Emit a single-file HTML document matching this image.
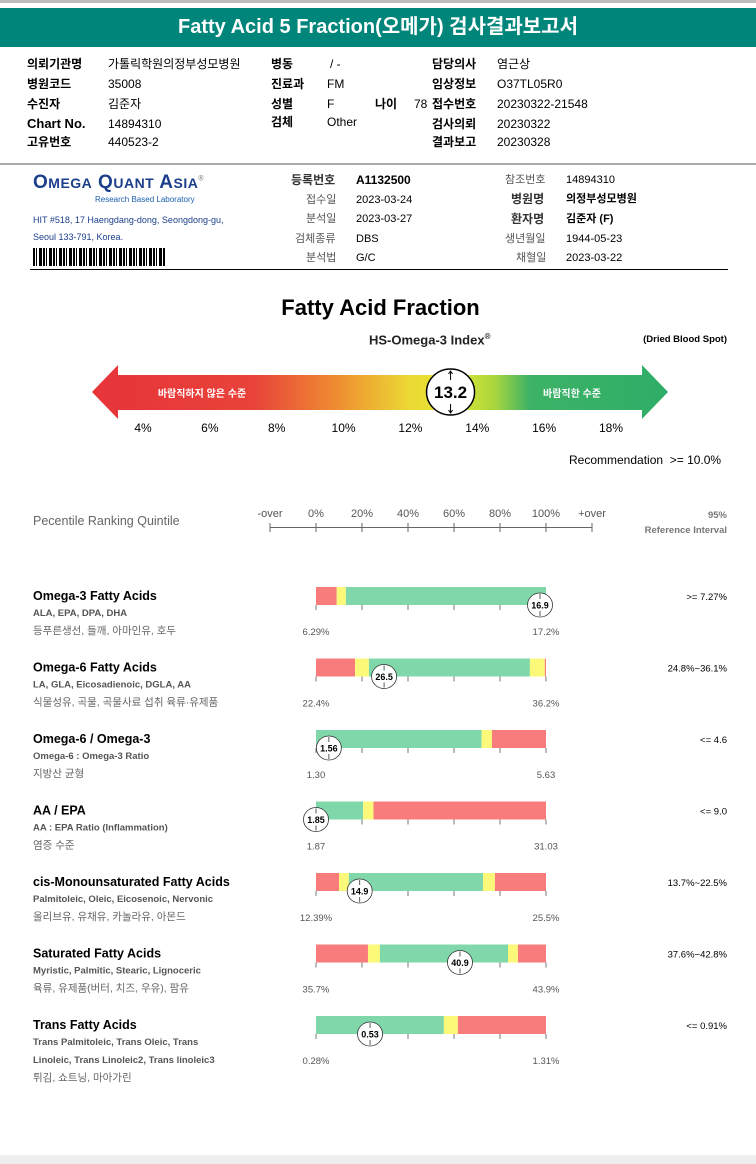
<!DOCTYPE html>
<html><head><meta charset="utf-8">
<style>
*{margin:0;padding:0;box-sizing:border-box}
body{width:756px;height:1164px;background:#fff;position:relative;overflow:hidden;font-family:"Liberation Sans","Noto Sans CJK KR",sans-serif;color:#000}
.a{position:absolute;white-space:nowrap}
.b{font-weight:bold}
.s{font-size:12px}
.g{color:#555}
#pi .a,#si .a{line-height:16px}
</style></head><body>
<div class="a" style="left:0;top:0;width:756px;height:3px;background:#bbb"></div>
<div class="a" style="left:0;top:8px;width:756px;height:39px;background:#00857a;color:#fff;font-size:20px;font-weight:bold;text-align:center;line-height:39px">Fatty Acid 5 Fraction(오메가) 검사결과보고서</div>

<div id="pi" style="font-size:12px">
<div class="a b" style="left:27px;top:56px">의뢰기관명</div><div class="a" style="left:108px;top:56px">가톨릭학원의정부성모병원</div>
<div class="a b" style="left:27px;top:76px">병원코드</div><div class="a" style="left:108px;top:76px">35008</div>
<div class="a b" style="left:27px;top:96px">수진자</div><div class="a" style="left:108px;top:96px">김준자</div>
<div class="a b" style="left:27px;top:116px;font-size:13px">Chart No.</div><div class="a" style="left:108px;top:116px">14894310</div>
<div class="a b" style="left:27px;top:134px">고유번호</div><div class="a" style="left:108px;top:134px">440523-2</div>
<div class="a b" style="left:271px;top:56px">병동</div><div class="a" style="left:330px;top:56px">/ -</div>
<div class="a b" style="left:271px;top:76px">진료과</div><div class="a" style="left:327px;top:76px">FM</div>
<div class="a b" style="left:271px;top:96px">성별</div><div class="a" style="left:327px;top:96px">F</div>
<div class="a b" style="left:375px;top:96px">나이</div><div class="a" style="left:414px;top:96px">78</div>
<div class="a b" style="left:271px;top:114px">검체</div><div class="a" style="left:327px;top:114px">Other</div>
<div class="a b" style="left:432px;top:56px">담당의사</div><div class="a" style="left:497px;top:56px">염근상</div>
<div class="a b" style="left:432px;top:76px">임상정보</div><div class="a" style="left:497px;top:76px">O37TL05R0</div>
<div class="a b" style="left:432px;top:96px">접수번호</div><div class="a" style="left:497px;top:96px">20230322-21548</div>
<div class="a b" style="left:432px;top:116px">검사의뢰</div><div class="a" style="left:497px;top:116px">20230322</div>
<div class="a b" style="left:432px;top:134px">결과보고</div><div class="a" style="left:497px;top:134px">20230328</div>
</div>
<div class="a" style="left:0;top:163px;width:756px;height:2px;background:#aaa"></div>

<div class="a" style="left:33px;top:172px;color:#1c3f8c;font-size:19px;font-weight:bold;letter-spacing:0.5px">O<span style="font-size:14px">MEGA</span> Q<span style="font-size:14px">UANT</span> A<span style="font-size:14px">SIA</span><sup style="font-size:7px;color:#888">®</sup></div>
<div class="a" style="left:95px;top:195px;color:#1c5fae;font-size:8px">Research Based Laboratory</div>
<div class="a" style="left:33px;top:212px;color:#1c3f8c;font-size:9px;line-height:17px">HIT #518, 17 Haengdang-dong, Seongdong-gu,<br>Seoul 133-791, Korea.</div>
<div class="a" style="left:33px;top:248px;width:132px;height:18px;background:repeating-linear-gradient(90deg,#000 0 2px,#fff 2px 3px,#000 3px 4px,#fff 4px 6px,#000 6px 9px,#fff 9px 10px)"></div>
<div id="si" style="font-size:11px">
<div class="a b" style="left:291px;top:172px;font-size:12px;color:#333">등록번호</div><div class="a b" style="left:356px;top:172px;font-size:12px">A1132500</div>
<div class="a g" style="left:306px;top:192px">접수일</div><div class="a" style="left:356px;top:192px">2023-03-24</div>
<div class="a g" style="left:306px;top:211px">분석일</div><div class="a" style="left:356px;top:211px">2023-03-27</div>
<div class="a g" style="left:295px;top:231px">검체종류</div><div class="a" style="left:356px;top:231px">DBS</div>
<div class="a g" style="left:306px;top:250px">분석법</div><div class="a" style="left:356px;top:250px">G/C</div>
<div class="a g" style="left:505px;top:172px">참조번호</div><div class="a" style="left:566px;top:172px">14894310</div>
<div class="a b" style="left:511px;top:191px;font-size:12px;color:#333">병원명</div><div class="a b" style="left:566px;top:191px">의정부성모병원</div>
<div class="a b" style="left:511px;top:211px;font-size:12px;color:#333">환자명</div><div class="a b" style="left:566px;top:211px">김준자 (F)</div>
<div class="a g" style="left:505px;top:231px">생년월일</div><div class="a" style="left:566px;top:231px">1944-05-23</div>
<div class="a g" style="left:516px;top:250px">채혈일</div><div class="a" style="left:566px;top:250px">2023-03-22</div>
</div>
<div class="a" style="left:30px;top:269px;width:698px;height:1px;background:#000"></div>

<div class="a b" style="left:0;top:295px;width:756px;text-align:center;font-size:22px;padding-left:5px">Fatty Acid Fraction</div>
<div class="a" style="left:369px;top:332px;font-size:13px;font-weight:bold;color:#222">HS-Omega-3 Index<sup style="font-size:8px">®</sup></div>
<div class="a b" style="left:600px;top:334px;width:127px;text-align:right;font-size:9.5px">(Dried Blood Spot)</div>

<svg class="a" style="left:0;top:355px" width="756" height="90">
<defs><linearGradient id="gr" x1="92" x2="668" gradientUnits="userSpaceOnUse">
<stop offset="0" stop-color="#e73439"/><stop offset="0.28" stop-color="#e8423a"/><stop offset="0.42" stop-color="#ee8a32"/><stop offset="0.55" stop-color="#ecd833"/><stop offset="0.63" stop-color="#e3e734"/><stop offset="0.7" stop-color="#a8d53e"/><stop offset="0.76" stop-color="#3db266"/><stop offset="1" stop-color="#2fae68"/></linearGradient></defs>
<polygon points="92,37 118,10 118,20 642,20 642,10 668,37 642,64 642,55 118,55 118,64" fill="url(#gr)"/>
<text x="202" y="42" font-size="10" font-weight="bold" fill="#fff" text-anchor="middle" font-family="Liberation Sans,Noto Sans CJK KR,sans-serif">바람직하지 않은 수준</text>
<text x="572" y="42" font-size="10" font-weight="bold" fill="#fff" text-anchor="middle" font-family="Liberation Sans,Noto Sans CJK KR,sans-serif">바람직한 수준</text>
<g id="gaugeTicks"></g>
<g id="gaugeMarker"></g>
</svg>

<div class="a" style="left:569px;top:453px;font-size:12px">Recommendation &nbsp;&gt;= 10.0%</div>

<div class="a" style="left:33px;top:514px;font-size:12.5px;color:#666">Pecentile Ranking Quintile</div>
<div class="a b" style="left:600px;top:508px;width:127px;text-align:right;font-size:9.5px;color:#777;line-height:15px">95%<br>Reference Interval</div>

<svg class="a" id="qc" style="left:0;top:0" width="756" height="1164" font-family="Liberation Sans,Noto Sans CJK KR,sans-serif"></svg>

<div class="a" style="left:0;top:1155px;width:756px;height:9px;background:#eee"></div>

<script>
const gaugeTickLabels=[4,6,8,10,12,14,16,18];
const gaugeValue=13.2;
const axisLabels=["-over","0%","20%","40%","60%","80%","100%","+over"];
const axisPcts=[-20,0,20,40,60,80,100,120];
const rowNames=["Omega-3 Fatty Acids","Omega-6 Fatty Acids","Omega-6 / Omega-3","AA / EPA","cis-Monounsaturated Fatty Acids","Saturated Fatty Acids","Trans Fatty Acids"];
const rowSubs=[["ALA, EPA, DPA, DHA","등푸른생선, 들깨, 아마인유, 호두"],["LA, GLA, Eicosadienoic, DGLA, AA","식물성유, 곡물, 곡물사료 섭취 육류·유제품"],["Omega-6 : Omega-3 Ratio","지방산 균형"],["AA : EPA Ratio (Inflammation)","염증 수준"],["Palmitoleic, Oleic, Eicosenoic, Nervonic","올리브유, 유채유, 카놀라유, 아몬드"],["Myristic, Palmitic, Stearic, Lignoceric","육류, 유제품(버터, 치즈, 우유), 팜유"],["Trans Palmitoleic, Trans Oleic, Trans","Linoleic, Trans Linoleic2, Trans linoleic3","튀김, 쇼트닝, 마아가린"]];
const segColors=[["r","y","g"],["r","y","g","y","r"],["g","y","r"],["g","y","r"],["r","y","g","y","r"],["r","y","g","y","r"],["g","y","r"]];
const segBreaks=[[0,9,13,100],[0,17,23,93,99.5,100],[0,72,76.5,100],[0,20.5,25,100],[0,10,14.3,72.6,77.8,100],[0,22.6,27.8,83.5,87.8,100],[0,55.6,61.7,100]];
const markerPcts=[97.4,29.6,5.6,0,19,62.6,23.5];
const markerLabels=["16.9","26.5","1.56","1.85","14.9","40.9","0.53"];
const lowLabels=["6.29%","22.4%","1.30","1.87","12.39%","35.7%","0.28%"];
const highLabels=["17.2%","36.2%","5.63","31.03","25.5%","43.9%","1.31%"];
const refIntervals=[">= 7.27%","24.8%~36.1%","<= 4.6","<= 9.0","13.7%~22.5%","37.6%~42.8%","<= 0.91%"];

const NS="http://www.w3.org/2000/svg";
function mk(p,t,at){const e=document.createElementNS(NS,t);for(const k in at)e.setAttribute(k,at[k]);p.appendChild(e);return e;}
function gx(v){return 143+(v-4)*(611-143)/14;}
const gt=document.getElementById('gaugeTicks');
gaugeTickLabels.forEach(v=>{const t=mk(gt,'text',{x:gx(v),y:77,'font-size':12,'text-anchor':'middle','font-family':'Liberation Sans,sans-serif'});t.textContent=v+'%';

});
const gm=document.getElementById('gaugeMarker');
const cx=gx(gaugeValue);
const c=mk(gm,'ellipse',{cx:cx,cy:37,rx:24,ry:23,fill:'#fff',stroke:'#000','stroke-width':1.5});


mk(gm,'path',{d:`M${cx} 17 v8 M${cx-2} 19 l2 -3 l2 3 M${cx} 49 v8 M${cx-2} 55 l2 3 l2 -3`,stroke:'#000',fill:'none','stroke-width':1});
const gv=mk(gm,'text',{x:cx,y:43,'font-size':17,'font-weight':'bold','text-anchor':'middle','font-family':'Liberation Sans,sans-serif'});gv.textContent=gaugeValue.toFixed(1);



const svg=document.getElementById('qc');
function px(p){return 316+p*2.3;}
const col={r:'#f87c7c',y:'#fbf87a',g:'#80d7a9'};
mk(svg,'line',{x1:px(-20),x2:px(120),y1:527.5,y2:527.5,stroke:'#666'});
axisPcts.forEach((p,i)=>{mk(svg,'line',{x1:px(p),x2:px(p),y1:523,y2:532,stroke:'#666'});
const t=mk(svg,'text',{x:px(p),y:517,'font-size':11,fill:'#555','text-anchor':'middle'});t.textContent=axisLabels[i];

});
rowNames.forEach((n,i)=>{
 const y=587+i*71.5;
 const g=mk(svg,'g',{});
 
 
 const t=mk(g,'text',{x:33,y:y+13,'font-size':12.5,'font-weight':'bold'});t.textContent=n;
 rowSubs[i].forEach((s,j)=>{const kr=/[가-힣]/.test(s)&&j==rowSubs[i].length-1;const st=mk(g,'text',{x:33,y:y+29+j*18,'font-size':kr?10.5:9.5,'font-weight':kr?'normal':'bold',fill:kr?'#666':'#555'});st.textContent=s;});
 const br=segBreaks[i];
 for(let k=0;k<br.length-1;k++){const r=mk(g,'rect',{x:px(br[k]),y:y,width:px(br[k+1])-px(br[k]),height:18,fill:col[segColors[i][k]]});
  
  }
 for(let p=0;p<=100;p+=20) mk(g,'line',{x1:px(p),x2:px(p),y1:y+18,y2:y+23,stroke:'#777'});
 const lo=mk(g,'text',{x:px(0),y:y+48,'font-size':9.5,fill:'#555','text-anchor':'middle'});lo.textContent=lowLabels[i];
 const hi=mk(g,'text',{x:px(100),y:y+48,'font-size':9.5,fill:'#555','text-anchor':'middle'});hi.textContent=highLabels[i];
 const ri=mk(g,'text',{x:727,y:y+13,'font-size':9.5,'text-anchor':'end'});ri.textContent=refIntervals[i];
 const mx=px(markerPcts[i]),my=y+18;
 const e=mk(g,'ellipse',{cx:mx,cy:my,rx:12.5,ry:12,fill:'#fff',stroke:'#333','stroke-width':0.8});
 
 
 mk(g,'path',{d:`M${mx} ${my-11} v5 M${mx} ${my+6} v5`,stroke:'#333','stroke-width':0.8});
 const mv=mk(g,'text',{x:mx,y:my+3.5,'font-size':9,'font-weight':'bold','text-anchor':'middle'});mv.textContent=markerLabels[i];
});
</script>
</body></html>
